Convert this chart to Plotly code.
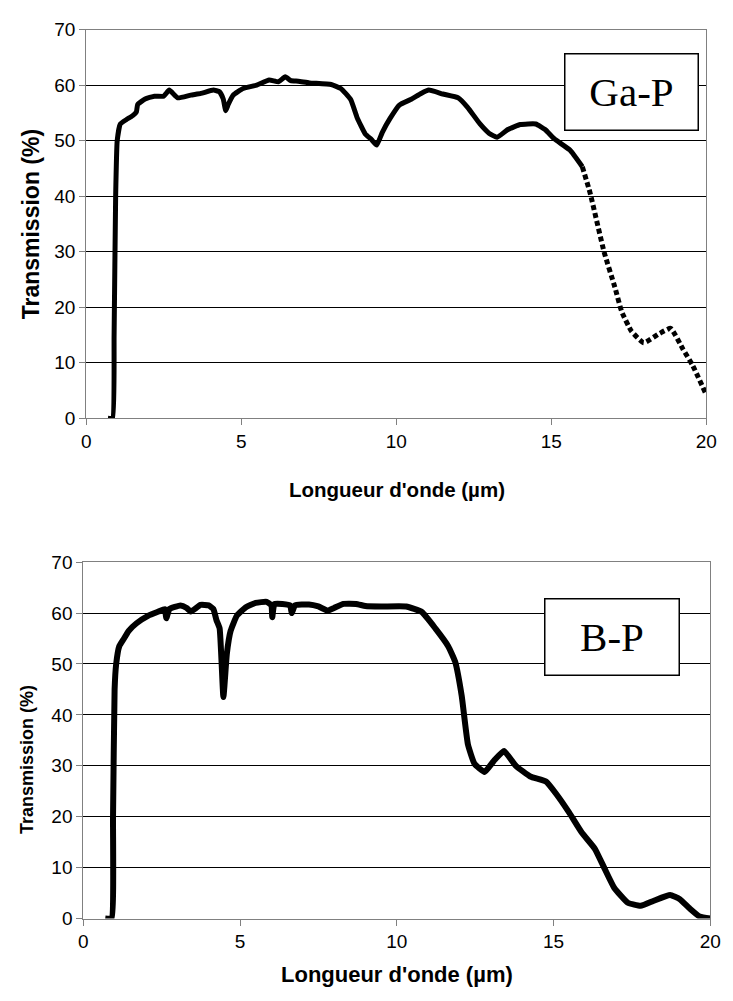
import plotly.graph_objects as go

# ---------------- data ----------------
gap_x = [0.70, 0.85, 0.90, 0.95, 1.00, 1.10, 1.30, 1.50, 1.62, 1.66, 1.90, 2.20, 2.50, 2.68, 2.95,
         3.37, 3.70, 4.10, 4.30, 4.42, 4.50, 4.58, 4.74, 5.06, 5.50, 5.90, 6.20, 6.42, 6.60, 6.84,
         7.20, 7.90, 8.21, 8.53, 8.74, 9.00, 9.20, 9.37, 9.55, 9.80, 10.10, 10.50, 10.80, 11.05,
         11.50, 12.00, 12.30, 12.70, 13.00, 13.25, 13.60, 14.00, 14.50, 14.80, 15.10, 15.60, 16.00]
gap_y = [0.0, 0.0, 15.0, 40.0, 50.0, 53.0, 53.8, 54.5, 55.2, 56.5, 57.5, 58.0, 58.0, 59.1, 57.7,
         58.2, 58.5, 59.1, 58.8, 57.5, 55.4, 56.5, 58.2, 59.4, 60.0, 60.9, 60.6, 61.5, 60.8, 60.7,
         60.4, 60.1, 59.4, 57.4, 54.1, 51.2, 50.2, 49.2, 51.5, 54.0, 56.4, 57.5, 58.5, 59.1,
         58.4, 57.7, 56.0, 53.0, 51.3, 50.6, 52.0, 52.9, 53.0, 52.0, 50.3, 48.3, 45.3]
gap_tail_x = [16.00, 16.25, 16.70, 17.05, 17.27, 17.58, 17.98, 18.50, 18.85, 19.25, 19.56, 20.00]
gap_tail_y = [45.3, 40.6, 30.0, 23.6, 19.2, 15.7, 13.6, 15.3, 16.2, 12.4, 9.5, 4.2]

bp_x = [0.70, 0.90, 0.95, 1.00, 1.05, 1.15, 1.30, 1.45, 1.70, 2.08, 2.40, 2.60, 2.65, 2.75, 3.10,
        3.30, 3.43, 3.74, 4.00, 4.15, 4.25, 4.35, 4.47, 4.58, 4.70, 4.90, 5.20, 5.50, 5.85, 6.00,
        6.03, 6.10, 6.60, 6.65, 6.75, 7.20, 7.50, 7.80, 8.00, 8.30, 8.70, 9.00, 9.50, 10.30,
        10.80, 11.23, 11.64, 11.86, 12.07, 12.27, 12.48, 12.80, 13.10, 13.42, 13.80, 14.26,
        14.76, 15.07, 15.50, 15.90, 16.32, 16.63, 16.94, 17.37, 17.78, 18.20, 18.72, 19.03,
        19.34, 19.66, 20.00]
bp_y = [0.0, 0.0, 20.0, 45.0, 50.0, 53.5, 55.0, 56.5, 58.0, 59.5, 60.3, 60.8, 59.0, 60.8, 61.5,
        61.0, 60.3, 61.6, 61.5, 60.8, 58.6, 57.0, 43.5, 52.0, 56.5, 59.5, 61.2, 62.0, 62.2, 61.5,
        59.2, 61.8, 61.5, 60.0, 61.5, 61.7, 61.3, 60.5, 61.0, 61.8, 61.8, 61.4, 61.3, 61.3,
        60.2, 57.0, 53.5, 50.5, 43.8, 34.2, 30.4, 28.8, 31.0, 32.9, 30.0, 27.9,
        26.9, 24.6, 20.8, 16.9, 13.7, 9.8, 6.0, 3.1, 2.5, 3.5, 4.6, 3.8,
        2.0, 0.4, 0.0]

x_ticks = [0, 5, 10, 15, 20]
y_ticks = [0, 10, 20, 30, 40, 50, 60, 70]
x_title = "Longueur d'onde (µm)"
y_title = "Transmission (%)"
labels = ["Ga-P", "B-P"]

# ---------------- layout helpers ----------------
W, H = 733, 1001


def px(x):
    return x / W


def py(y):
    return 1 - y / H


fig = go.Figure()
fig.add_trace(go.Scatter(x=gap_x, y=gap_y, mode="lines",
                         line=dict(color="black", width=5, shape="spline", smoothing=0.4),
                         xaxis="x", yaxis="y", showlegend=False, hoverinfo="skip"))
fig.add_trace(go.Scatter(x=gap_tail_x, y=gap_tail_y, mode="lines",
                         line=dict(color="black", width=5, dash="5px,3px", shape="spline", smoothing=0.4),
                         xaxis="x", yaxis="y", showlegend=False, hoverinfo="skip"))
fig.add_trace(go.Scatter(x=bp_x, y=bp_y, mode="lines",
                         line=dict(color="black", width=6, shape="spline", smoothing=0.4),
                         xaxis="x2", yaxis="y2", showlegend=False, hoverinfo="skip"))

tickfont = dict(family="Liberation Sans, Arial", size=19, color="black")
common_x = dict(range=[0, 20], tickvals=x_ticks, ticks="outside", ticklen=6, tickcolor="#808080",
                showline=True, linecolor="#808080", linewidth=1, mirror=True, showgrid=False,
                zeroline=False, tickfont=tickfont, fixedrange=True)
common_y = dict(range=[0, 70], tickvals=y_ticks, ticks="outside", ticklen=6, tickcolor="#808080",
                showline=True, linecolor="#808080", linewidth=1, mirror=True, showgrid=True,
                gridcolor="black", gridwidth=1, zeroline=False, tickfont=tickfont, fixedrange=True)

fig.update_layout(
    width=W, height=H, margin=dict(l=0, r=0, t=0, b=0),
    paper_bgcolor="white", plot_bgcolor="white",
    xaxis=dict(domain=[px(83), px(717)], anchor="y", **common_x),
    yaxis=dict(domain=[py(417), py(20)], anchor="x", **common_y),
    xaxis2=dict(domain=[px(80), px(721)], anchor="y2", **common_x),
    yaxis2=dict(domain=[py(928), py(564)], anchor="x2", **common_y),
)

ann = []
# axis titles
ann.append(dict(text=x_title, x=px(401), y=py(490), xref="paper", yref="paper", showarrow=False,
                xanchor="center", yanchor="middle",
                font=dict(family="Liberation Sans, Arial", size=20.5, color="black", weight="bold")))
ann.append(dict(text=x_title, x=px(400.5), y=py(985), xref="paper", yref="paper", showarrow=False,
                xanchor="center", yanchor="middle",
                font=dict(family="Liberation Sans, Arial", size=22, color="black", weight="bold")))
ann.append(dict(text=y_title, x=px(26), y=py(218.5), xref="paper", yref="paper", showarrow=False,
                xanchor="center", yanchor="middle", textangle=-90,
                font=dict(family="Liberation Sans, Arial", size=23, color="black", weight="bold")))
ann.append(dict(text=y_title, x=px(22.5), y=py(766), xref="paper", yref="paper", showarrow=False,
                xanchor="center", yanchor="middle", textangle=-90,
                font=dict(family="Liberation Sans, Arial", size=18, color="black", weight="bold")))
# label boxes
for lab, (x0, y0, x1, y1) in zip(labels, [(573, 45, 707, 122), (553, 602, 688, 679)]):
    ann.append(dict(text=lab, x=px((x0 + x1) / 2), y=py((y0 + y1) / 2), xref="paper", yref="paper",
                    showarrow=False, xanchor="center", yanchor="middle",
                    width=x1 - x0 - 4, height=y1 - y0 - 4, borderpad=1, borderwidth=1.5,
                    bordercolor="black", bgcolor="white",
                    font=dict(family="Liberation Serif, Times New Roman", size=41, color="black")))
fig.update_layout(annotations=ann)

fig.write_html("out.html", config={"displayModeBar": False, "staticPlot": True},
               post_script="document.body.style.margin='0';document.body.style.overflow='hidden';")
